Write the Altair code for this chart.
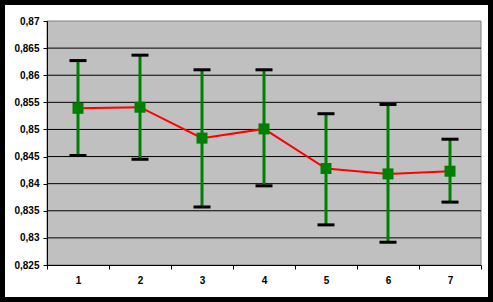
import altair as alt
import pandas as pd

cats = [1, 2, 3, 4, 5, 6, 7]
means = [0.8539, 0.8541, 0.8484, 0.8501, 0.8428, 0.8418, 0.8423]
upper = [0.8627, 0.8637, 0.8610, 0.8610, 0.8529, 0.8546, 0.8482]
lower = [0.8452, 0.8445, 0.8357, 0.8396, 0.8324, 0.8292, 0.8366]
y_ticks = [0.825, 0.83, 0.835, 0.84, 0.845, 0.85, 0.855, 0.86, 0.865, 0.87]
grid_vals = [0.83, 0.835, 0.84, 0.845, 0.85, 0.855, 0.86, 0.865]

W, H = 434, 244

df = pd.DataFrame({"cat": cats, "mean": means, "upper": upper, "lower": lower})
grid_df = pd.DataFrame({"g": grid_vals})
one = pd.DataFrame({"a": [0]})

FONT = "Liberation Sans"

xscale = alt.Scale(type="band", paddingInner=0, paddingOuter=0, domain=cats)
yscale = alt.Scale(domain=[0.825, 0.87], nice=False, zero=False)

xaxis = alt.Axis(title=None, labelAngle=0, tickBand="extent", grid=False,
                 domainColor="black", tickColor="black", tickSize=4,
                 labelFont=FONT, labelFontSize=10, labelFontWeight="bold",
                 labelColor="black", labelPadding=6, zindex=1)
yaxis = alt.Axis(title=None, values=y_ticks, grid=False,
                 labelExpr="replace(format(datum.value, '.3~f'), '.', ',')",
                 domainColor="black", tickColor="black", tickSize=4,
                 labelFont=FONT, labelFontSize=10, labelFontWeight="bold",
                 labelColor="black", labelPadding=4, zindex=1)

white = alt.Chart(one).mark_rect(color="white").encode(
    x=alt.value(-42), x2=alt.value(W + 7), y=alt.value(-16), y2=alt.value(H + 32))
gray = alt.Chart(one).mark_rect(color="#C0C0C0", stroke="#808080", strokeWidth=1).encode(
    x=alt.value(0), x2=alt.value(W), y=alt.value(0), y2=alt.value(H))

grid = alt.Chart(grid_df).mark_rule(color="black", strokeWidth=1).encode(
    x=alt.value(0), x2=alt.value(W),
    y=alt.Y("g:Q", scale=yscale, axis=yaxis))

base = alt.Chart(df)
line = base.mark_line(color="#FF0000", strokeWidth=2).encode(
    x=alt.X("cat:O", scale=xscale, axis=xaxis),
    y=alt.Y("mean:Q", scale=yscale, axis=yaxis))
bars = base.mark_rule(color="#008000", strokeWidth=3).encode(
    x=alt.X("cat:O", scale=xscale, axis=xaxis),
    y=alt.Y("lower:Q", scale=yscale, axis=yaxis), y2="upper:Q")
cap_up = base.mark_tick(color="black", thickness=3, size=17, opacity=1).encode(
    x=alt.X("cat:O", scale=xscale, axis=xaxis),
    y=alt.Y("upper:Q", scale=yscale, axis=yaxis))
cap_lo = base.mark_tick(color="black", thickness=3, size=17, opacity=1).encode(
    x=alt.X("cat:O", scale=xscale, axis=xaxis),
    y=alt.Y("lower:Q", scale=yscale, axis=yaxis))
pts = base.mark_square(color="#008000", size=121, opacity=1, filled=True).encode(
    x=alt.X("cat:O", scale=xscale, axis=xaxis),
    y=alt.Y("mean:Q", scale=yscale, axis=yaxis))

chart = alt.layer(white, gray, grid, line, bars, cap_up, cap_lo, pts).properties(
    width=W, height=H,
    autosize=alt.AutoSizeParams(type="none"),
    padding={"left": 47, "top": 21, "right": 12, "bottom": 37},
).configure(background="black").configure_view(strokeWidth=0, fill=None)

chart.save("out.html", embed_options={"renderer": "svg", "actions": False})
